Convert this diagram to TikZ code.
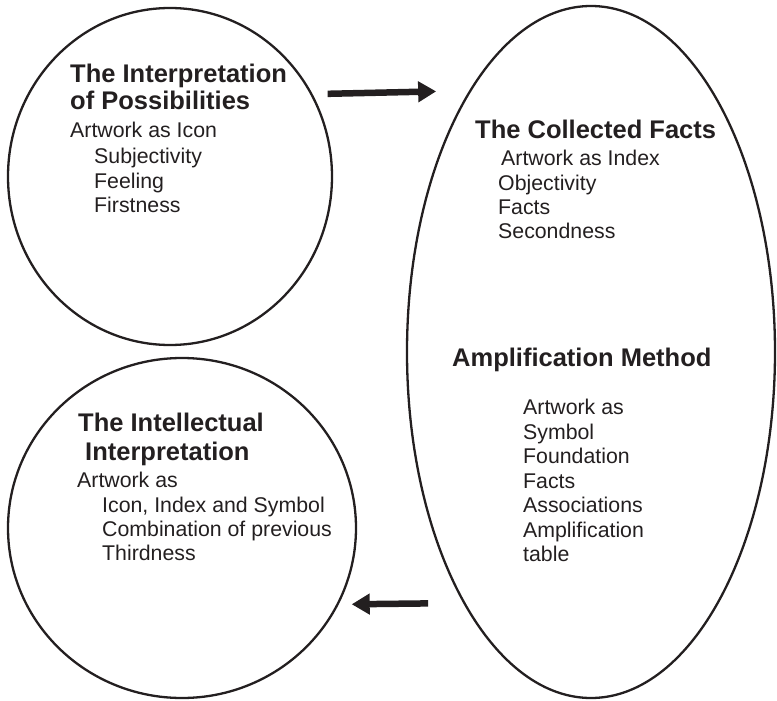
\documentclass[tikz,border=0pt]{standalone}
\usepackage{fontspec}
\setmainfont{Liberation Sans}
\usetikzlibrary{shapes.geometric,arrows.meta}

\definecolor{ink}{HTML}{231F20}

\tikzstyle{stage}=[ellipse, draw=ink, line width=2.3pt, inner sep=0pt]
\tikzstyle{headline}=[font=\fontsize{25.5}{28}\selectfont\bfseries, text=ink, inner sep=0pt, anchor=base west]
\tikzstyle{itemline}=[font=\fontsize{21.3}{25}\selectfont, text=ink, inner sep=0pt, anchor=base west]
\tikzstyle{flow}=[draw=ink, line width=6.5pt, -{Triangle[length=18pt, width=20pt]}]

\begin{document}
\begin{tikzpicture}[x=1pt, y=-1pt]
\useasboundingbox (0,0) rectangle (777,701);

\node [stage, minimum width=324pt, minimum height=337pt] (poss) at (170,176.5) {};
\node [stage, minimum width=368pt, minimum height=692pt] (facts) at (591,352) {};
\node [stage, minimum width=348pt, minimum height=340pt] (intel) at (182,528) {};

% first circle
\node [headline] (poss1) at (70,82) {The Interpretation};
\node [headline] (poss2) at (70,110) {of Possibilities};
\node [itemline] (poss3) at (70,137) {Artwork as Icon};
\node [itemline] (poss4) at (94,163) {Subjectivity};
\node [itemline] (poss5) at (94,188) {Feeling};
\node [itemline] (poss6) at (94,212) {Firstness};

% tall ellipse
\node [headline] (facts1) at (475,139) {The Collected Facts};
\node [itemline] (facts2) at (501,165) {Artwork as Index};
\node [itemline] (facts3) at (498,190) {Objectivity};
\node [itemline] (facts4) at (498,214) {Facts};
\node [itemline] (facts5) at (498,238) {Secondness};
\node [headline] (ampl1) at (452,366) {Amplification Method};
\node [itemline] (ampl2) at (523,414) {Artwork as};
\node [itemline] (ampl3) at (523,439) {Symbol};
\node [itemline] (ampl4) at (523,463) {Foundation};
\node [itemline] (ampl5) at (523,488) {Facts};
\node [itemline] (ampl6) at (523,512) {Associations};
\node [itemline] (ampl7) at (523,537) {Amplification};
\node [itemline] (ampl8) at (523,561) {table};

% last circle
\node [headline] (intel1) at (78,431) {The Intellectual};
\node [headline] (intel2) at (85,460) {Interpretation};
\node [itemline] (intel3) at (77,487) {Artwork as};
\node [itemline] (intel4) at (102,512) {Icon, Index and Symbol};
\node [itemline] (intel5) at (102,536) {Combination of previous};
\node [itemline] (intel6) at (102,560) {Thirdness};

\draw [flow, shorten <=15pt, shorten >=33pt] (poss.30.3) -- (facts.115.4);
\draw [flow, shorten <=35pt, shorten >=13pt] (facts.243.2) -- (intel.334.4);
\end{tikzpicture}
\end{document}
